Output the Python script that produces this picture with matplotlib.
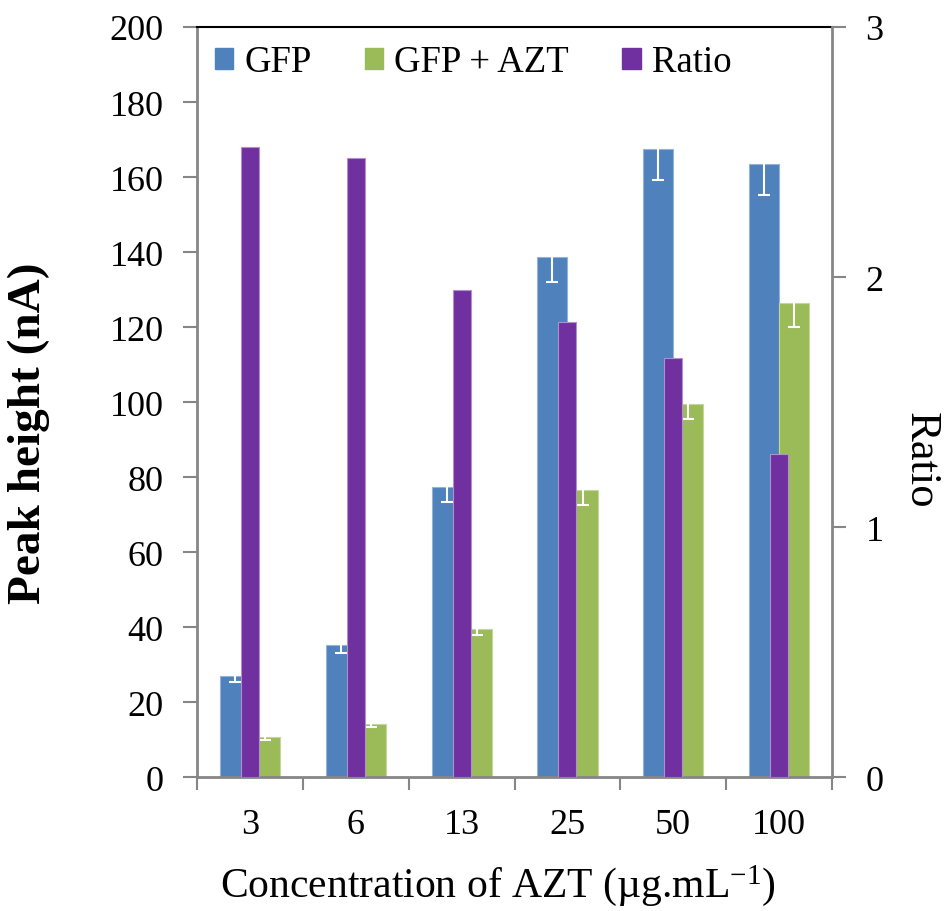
import matplotlib.pyplot as plt
from matplotlib.patches import Patch
import numpy as np

plt.rcParams['font.family'] = ['Liberation Serif', 'DejaVu Serif']
plt.rcParams['mathtext.fontset'] = 'custom'
plt.rcParams['mathtext.rm'] = 'Liberation Serif'

concentrations = ['3', '6', '13', '25', '50', '100']
gfp = [26.9, 35.2, 77.3, 138.8, 167.5, 163.5]
gfp_err = [1.5, 2.0, 4.0, 6.9, 8.3, 8.3]
gfp_azt = [10.6, 14.1, 39.5, 76.5, 99.6, 126.4]
gfp_azt_err = [0.7, 0.8, 1.5, 4.0, 4.0, 6.3]
ratio = [2.52, 2.475, 1.948, 1.821, 1.675, 1.292]

blue = '#4F81BD'
green = '#9BBB59'
purple = '#7030A0'
grey = '#868686'

x = np.arange(len(concentrations))
w = 0.284   # primary bar width
wr = 0.17   # ratio bar width

fig = plt.figure(figsize=(9.45, 9.12), dpi=100)
ax = fig.add_axes([0.2085, 0.1469, 0.672, 0.8224])
ax2 = ax.twinx()

ax.bar(x - w / 2, gfp, w, color=blue, edgecolor='#95B3D7', linewidth=0.8)
ax.bar(x + w / 2, gfp_azt, w, color=green, edgecolor='#C3D69B', linewidth=0.8)
ax.errorbar(x - w / 2, gfp, yerr=gfp_err, fmt='none', ecolor='white',
            elinewidth=1.5, capsize=4.5, capthick=1.5)
ax.errorbar(x + w / 2, gfp_azt, yerr=gfp_azt_err, fmt='none', ecolor='white',
            elinewidth=1.5, capsize=4.5, capthick=1.5)

# ratio on the secondary axis, drawn over the clusters
ax2.bar(x, ratio, wr, color=purple, edgecolor='#B290CC', linewidth=0.8)

ax.set_xlim(-0.5, len(concentrations) - 0.5)
ax.set_ylim(0, 200)
ax2.set_ylim(0, 3)
ax.set_yticks(range(0, 201, 20))
ax2.set_yticks([0, 1, 2, 3])

ax.set_xticks(x)
ax.set_xticklabels(concentrations)
ax.set_xticks(np.arange(-0.5, len(concentrations)), minor=True)

ax.tick_params(axis='x', which='major', length=0, labelsize=26, pad=22)
ax.tick_params(axis='x', which='minor', length=9, width=1.5, color=grey, direction='out')
ax.tick_params(axis='y', length=10, width=1.5, color=grey, direction='out', labelsize=26, pad=14)
ax2.tick_params(axis='y', length=10, width=1.5, color=grey, direction='out', labelsize=26, pad=14)

for s in ['left', 'bottom']:
    ax.spines[s].set_color(grey)
    ax.spines[s].set_linewidth(2)
ax.spines['right'].set_visible(False)
ax.spines['top'].set_color('black')
ax.spines['top'].set_linewidth(1.5)
for s in ['left', 'bottom', 'top']:
    ax2.spines[s].set_visible(False)
ax2.spines['right'].set_color(grey)
ax2.spines['right'].set_linewidth(2)

ax.set_xlabel(r'Concentration of AZT (µg.mL$\mathregular{^{-1}}$)', fontsize=30, va='baseline')
ax.xaxis.set_label_coords(0.474, -0.158)
ax.set_ylabel('Peak height (nA)', fontsize=34, fontweight='bold', va='center')
ax.yaxis.set_label_coords(-0.265, 0.46)
ax2.set_ylabel('Ratio', fontsize=32, rotation=-90, va='center')
ax2.yaxis.set_label_coords(1.14, 0.424)

handles = [Patch(color=blue, label='GFP'),
           Patch(color=green, label='GFP + AZT'),
           Patch(color=purple, label='Ratio')]
ax2.legend(handles=handles, loc='center left', bbox_to_anchor=(0.028, 0.953),
           ncol=3, frameon=False, fontsize=26.5, handlelength=0.5, handleheight=0.5,
           handletextpad=0.3, columnspacing=1.45, borderpad=0, borderaxespad=0)

fig.savefig('out.png', dpi=100)
